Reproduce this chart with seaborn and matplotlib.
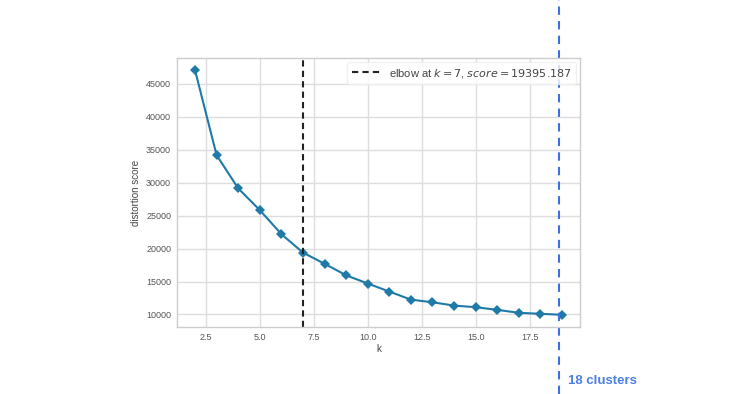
import matplotlib
matplotlib.use("Agg")
import matplotlib.pyplot as plt
import seaborn as sns
import pandas as pd

k_values = [2, 3, 4, 5, 6, 7, 8, 9, 10, 11, 12, 13, 14, 15, 16, 17, 18, 19]
distortion = [47100, 34200, 29150, 25850, 22200, 19395.187, 17700, 15950,
              14700, 13480, 12250, 11850, 11350, 11100, 10700, 10250, 10100, 9950]
elbow_k = 7
elbow_score = 19395.187
cluster_marker_k = 18.85
cluster_label = "18 clusters"

sns.set_style("whitegrid")
plt.rcParams['font.family'] = ['Liberation Sans', 'DejaVu Sans']

df = pd.DataFrame({"k": k_values, "distortion score": distortion})

fig = plt.figure(figsize=(7.3, 3.94), dpi=100)
ax = fig.add_axes([0.242, 0.170, 0.553, 0.683])

sns.lineplot(data=df, x="k", y="distortion score", marker="D", color="#1f7aa8",
             markersize=5.5, markeredgewidth=0, linewidth=1.5, ax=ax)
ax.axvline(elbow_k, color="#222222", linestyle=(0, (3, 2)), linewidth=1.5,
           label=f"elbow at $k={elbow_k}$, $score={elbow_score}$")

ax.set_xticks([2.5, 5.0, 7.5, 10.0, 12.5, 15.0, 17.5])
ax.set_yticks([10000, 15000, 20000, 25000, 30000, 35000, 40000, 45000])
ax.tick_params(axis="both", labelsize=6.5, colors="#555555", length=0, pad=4)
ax.set_xlabel("k", fontsize=7, color="#444444", labelpad=2)
ax.set_ylabel("distortion score", fontsize=7, color="#444444", labelpad=4)
ax.grid(True, color="#dddddd", linewidth=1)
for s in ax.spines.values():
    s.set_color("#cccccc")
    s.set_linewidth(1)

leg = ax.legend(loc="upper right", fontsize=8, frameon=True, handlelength=2.5,
                borderaxespad=0.4)
leg.get_frame().set_edgecolor("#eeeeee")
for t in leg.get_texts():
    t.set_color("#444444")

ax.axvline(cluster_marker_k, ymin=-0.25, ymax=1.25, color="#3f6fe0",
           linestyle=(0, (4, 3)), linewidth=1.5, clip_on=False)
ax.annotate(cluster_label, xy=(cluster_marker_k, 0), xycoords=("data", "figure fraction"),
            xytext=(7, 9.5), textcoords="offset points", color="#4a7fe8",
            fontsize=9.5, fontweight="bold", va="center", ha="left")

fig.savefig("out.png", dpi=100)
